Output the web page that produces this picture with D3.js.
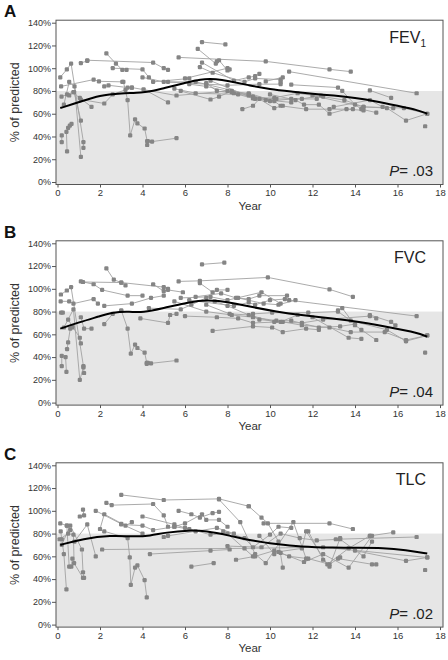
<!DOCTYPE html>
<html><head><meta charset="utf-8">
<script src="https://cdn.jsdelivr.net/npm/d3@7"></script>
<style>body{margin:0;background:#fff}svg{display:block;font-family:"Liberation Sans",Arial,sans-serif}</style>
</head><body><svg id="c" width="448" height="660"></svg>
<script>
const yearTicks = [0,2,4,6,8,10,12,14,16,18];
const pctTicks = [0,20,40,60,80,100,120,140];
const panelLetters = ["A","B","C"];
const measureNames = ["FEV","FVC","TLC"];
const measureSubs = ["1","",""];
const pValues = [".03",".04",".02"];
const normalLimit = 80;

const fevTraj = [
 [[0.13,92],[0.44,99],[0.64,104],[1.22,35],[1.22,30]],
 [[0.17,84],[1.7,90],[1.95,88.5],[3.05,88]],
 [[0.19,75],[0.45,77],[0.75,79],[1.1,72.5],[2.2,69],[2.6,77],[3.2,81]],
 [[1.1,104.5],[1.4,106.5]],
 [[0.2,41],[0.2,35]],
 [[0.42,44],[0.45,27]],
 [[0.5,47.5],[0.58,49.5],[0.66,51]],
 [[0.55,76],[0.78,79],[1.1,54]],
 [[0.3,68],[0.55,88],[0.8,84],[1.1,22]],
 [[1.05,74],[1.6,66]],
 [[2.3,113],[2.75,104],[3.05,98.5],[3.25,98.5]],
 [[2.2,84],[2.4,85],[3.3,83],[3.5,83]],
 [[3.1,88],[3.3,72],[3.42,41],[3.65,55],[3.76,51.5],[4.1,47],[4.22,36],[4.22,32.5]],
 [[4.25,36],[4.45,35.5],[5.6,38.5]],
 [[1.4,107],[4.5,105],[5.0,100],[5.2,98.5]],
 [[2.6,100],[4.0,99],[4.3,92],[4.5,88],[6.2,91]],
 [[4.05,81.5],[5.2,70]],
 [[3.5,83],[5.6,76],[8.0,80]],
 [[5.7,109.5],[9.8,106],[12.8,99],[13.8,97]],
 [[6.8,123],[7.9,121]],
 [[6.6,117],[7.45,104]],
 [[7.5,106],[7.6,107],[8.0,98]],
 [[10.9,97],[16.9,78]],
 [[6.8,105],[8.3,89],[9.0,92],[9.3,93],[9.5,95]],
 [[5.8,80],[7.2,72.5],[7.6,75],[8.2,80],[9.0,76]],
 [[6.0,91],[8.0,100],[8.1,99]],
 [[9.8,88.5],[10.6,92],[10.5,88]],
 [[8.7,64],[9.2,67],[9.5,73],[10.2,65],[10.6,67]],
 [[10.0,77],[11.2,72],[11.6,68],[12.3,68],[12.8,60],[13.6,64],[14.4,63]],
 [[11.0,85.5],[13.2,83],[13.4,80],[14.0,68],[14.3,64],[15.0,61]],
 [[14.7,80.5],[15.7,74]],
 [[12.0,76],[14.4,66],[15.5,65],[16.4,54],[17.4,60]],
 [[13.0,66],[14.7,72],[15.3,66],[15.8,65]],
 [[17.3,49]],
 [[7.2,89],[9.3,73],[10.2,74],[11.3,78],[12.5,75],[13.5,72],[14.4,66],[16.3,65],[17.4,60]],
 [[5.2,88],[6.5,88],[9.0,77],[10.0,71],[11.0,73],[12.2,73]],
 [[4.0,92],[5.0,88],[7.0,86],[8.0,85],[9.5,86],[10.5,86]],
 [[5.5,82],[6.5,78],[8.5,77],[9.2,73.5],[9.8,72],[11.0,70]],
 [[6.2,86],[7.0,84],[8.2,79],[9.0,78],[10.2,71],[10.5,67],[11.7,64],[12.8,64],[13.9,64]],
 [[6.7,101],[7.3,96],[8.8,88],[9.3,91],[10.5,90]],
 [[7.0,87],[7.5,80],[8.3,78],[9.2,75],[10.3,73],[11.5,73],[12.4,76]]
];
const fvcTraj = [
 [[0.16,95],[0.44,98.5],[0.64,101.5],[1.22,32],[1.25,26]],
 [[0.15,89],[0.55,89],[0.75,87],[1.7,91],[1.9,87]],
 [[0.17,79],[0.25,79]],
 [[0.2,41],[0.2,32]],
 [[0.38,40],[0.42,27]],
 [[0.45,47],[0.5,53],[0.6,65],[0.7,66]],
 [[0.5,73],[0.7,67],[1.05,57],[1.1,52]],
 [[0.3,66],[0.75,82],[1.05,20],[1.22,31]],
 [[1.1,75],[1.25,65],[1.6,65]],
 [[1.1,106.5],[1.7,104],[2.1,99],[3.3,94],[4.0,94]],
 [[1.2,106],[3.0,105.5],[5.0,101.5],[5.2,100]],
 [[2.3,118],[2.65,108],[3.0,105.5],[3.2,103]],
 [[2.2,85],[3.5,87],[4.4,92],[5.0,94]],
 [[2.2,69],[2.6,78],[3.0,80.5]],
 [[3.0,81],[3.3,65],[3.45,43],[3.65,51],[3.76,48],[4.1,44],[4.2,35],[4.2,34]],
 [[4.25,35],[4.4,34.5],[5.6,37]],
 [[3.9,74],[5.2,70],[5.3,77],[5.6,78]],
 [[4.5,104],[5.0,98],[5.2,99],[5.9,97]],
 [[4.3,83],[5.8,82],[6.3,86],[7.0,92]],
 [[5.7,106.5],[6.7,107],[9.9,110],[12.8,99.5],[13.9,93]],
 [[6.8,121.5],[7.85,123]],
 [[6.7,105],[7.3,97],[7.5,99],[8.0,99]],
 [[10.9,90],[16.9,76]],
 [[14.7,77],[15.7,71],[15.9,68]],
 [[16.4,54],[17.4,59]],
 [[17.3,44]],
 [[13.2,81],[13.4,83],[14.0,68],[14.3,64],[15.0,55]],
 [[12.0,75],[13.7,57],[14.3,56]],
 [[7.3,63],[9.2,67],[10.1,66],[10.6,62],[11.7,65],[12.3,64]],
 [[5.8,92],[7.2,93],[8.0,90],[9.6,97],[10.5,87]],
 [[6.2,90],[8.3,85],[9.0,88],[9.3,86],[10.0,90],[10.7,91]],
 [[5.5,89],[7.0,80],[8.2,77],[9.2,75],[10.3,72],[11.0,72],[12.3,66],[13.3,67],[14.0,69]],
 [[6.0,76],[7.5,75],[8.5,74],[9.2,70],[10.6,71],[11.5,68],[12.8,66],[13.8,62],[15.4,62],[16.4,55],[17.4,59]],
 [[7.0,86],[8.1,78],[9.0,77],[10.2,71],[11.5,70],[12.5,73],[14.7,76],[15.0,74]],
 [[6.5,93],[7.7,96],[8.4,92],[9.0,91],[9.5,94],[10.8,94]],
 [[8.5,92],[9.7,87],[10.4,86],[11.2,90]],
 [[9.2,78],[10.1,79],[11.8,79],[13.2,80],[13.8,72],[15.5,64],[16.4,54]],
 [[7.4,89],[8.0,85],[9.5,73],[10.5,71],[11.3,77]]
];
const tlcTraj = [
 [[0.13,89],[0.44,87],[0.6,83]],
 [[0.15,82],[0.2,75],[0.3,62],[0.42,31]],
 [[0.44,87],[0.55,51],[0.65,51],[0.7,58]],
 [[0.1,75],[0.5,80],[0.75,79],[0.78,54],[1.2,41]],
 [[0.2,70],[0.6,87],[1.15,66],[1.2,46],[1.25,41]],
 [[1.05,95],[1.25,96],[1.2,101]],
 [[0.8,73],[1.4,88],[1.8,60]],
 [[1.8,100],[3.0,88.5],[4.0,80]],
 [[2.3,107],[2.55,105],[4.5,106],[5.0,96],[5.2,86]],
 [[3.0,114],[5.0,109.5],[7.6,110.5],[9.0,104]],
 [[2.0,84],[2.2,97],[3.2,87],[3.5,90]],
 [[2.1,66],[8.8,67],[12.5,68],[17.4,59]],
 [[2.2,82],[3.3,76],[3.4,59],[3.45,35],[3.65,50],[3.76,52],[4.1,39],[4.2,24]],
 [[3.0,88],[4.0,87],[4.5,83],[5.5,86],[6.2,84]],
 [[4.35,62],[7.2,65],[8.1,66]],
 [[6.3,51],[7.35,54]],
 [[5.7,100],[6.3,97],[6.7,94],[7.3,98],[7.6,99]],
 [[4.0,95],[5.5,88],[6.0,85],[7.2,79],[8.0,80],[9.2,60]],
 [[5.0,77],[5.2,78],[6.5,82],[7.5,85],[8.3,80]],
 [[5.5,86],[6.0,89],[6.8,97],[7.0,92],[7.6,92],[8.0,86]],
 [[9.0,104],[9.6,94],[9.9,89],[10.4,73],[10.6,50]],
 [[9.7,89],[12.8,89],[13.9,84]],
 [[11.8,82],[12.5,57],[12.8,51],[13.3,76]],
 [[14.7,78],[15.8,81]],
 [[13.1,75],[16.9,77]],
 [[14.0,65],[16.4,56],[17.4,59]],
 [[17.3,48]],
 [[13.2,58],[14.8,53],[15.0,53]],
 [[10.5,63],[11.6,55],[12.5,62],[13.7,50],[14.8,78]],
 [[7.6,110],[8.6,90],[9.3,62],[9.8,54],[11.1,90],[11.7,58]],
 [[8.4,57],[9.3,60],[10.2,65],[10.9,60],[11.8,58],[12.8,53],[13.3,59]],
 [[7.8,82],[8.8,76],[9.2,68],[10.0,79],[10.4,86],[11.0,85]],
 [[8.0,69],[9.6,68],[10.5,80],[11.4,76],[12.2,74],[13.3,75],[14.4,60],[14.8,73]],
 [[9.5,78],[10.2,62],[10.4,64],[11.5,67],[11.7,82],[12.7,53],[13.7,67],[14.7,78]]
];
const fevSmooth = [[0.13,65],[1,70],[2,76.5],[3,78],[4,78.5],[4.5,80],[5,82.5],[6,87],[6.7,90.5],[7.5,90.5],[8,89],[9,85],[10,81.5],[11,79.5],[12,77.5],[13,76],[14,74],[15,71],[16,67],[17,63],[17.4,60]];
const fvcSmooth = [[0.13,65],[1,70.5],[2,76],[2.6,79.5],[3.4,80],[4,79],[5,83],[6,87.5],[6.8,90],[7.6,89.5],[8.3,87.3],[9.2,83.8],[10.3,80],[11.4,77],[13,74],[14.2,71],[15.8,65.5],[16.9,61.5],[17.4,58]];
const tlcSmooth = [[0.13,70],[1.2,75.5],[2.5,78.5],[3.6,77.2],[4.35,78],[5.1,81],[6.2,83],[7,82.2],[8,78.7],[9.2,73.4],[10.3,70.7],[11.4,68.4],[13,67.5],[14.2,67.5],[15.3,67.5],[16.4,65.5],[17.4,62.5]];

const trajSets = [fevTraj, fvcTraj, tlcTraj];
const smoothSets = [fevSmooth, fvcSmooth, tlcSmooth];
const panelTops = [22.7, 243.3, 465.3];

const svg = d3.select("#c");
const x = d3.scaleLinear().domain([0,18]).range([57.5, 440]);
const frameL = 56, frameR = 443;

panelTops.forEach((top, i) => {
  const y = d3.scaleLinear().domain([0,140]).range([top+159.3, top]);
  const g = svg.append("g");
  const fTop = top - 2.5, fBot = y(0) + 2.5;
  g.append("rect").attr("x", frameL).attr("y", y(normalLimit)).attr("width", frameR-frameL).attr("height", fBot - y(normalLimit)).attr("fill", "#e6e6e6");

  const line = d3.line().x(d=>x(d[0])).y(d=>y(d[1]));
  trajSets[i].forEach(t => {
    if (t.length > 1) g.append("path").attr("d", line(t)).attr("fill","none").attr("stroke","#a2a2a2").attr("stroke-width",0.9);
  });
  trajSets[i].forEach(t => {
    g.selectAll(null).data(t).enter().append("rect")
      .attr("x", d=>x(d[0])-2.1).attr("y", d=>y(d[1])-2.1).attr("width",4.2).attr("height",4.2).attr("rx",1.2)
      .attr("fill","#858585");
  });
  g.append("path").attr("d", d3.line().curve(d3.curveBasis).x(d=>x(d[0])).y(d=>y(d[1]))(smoothSets[i]))
    .attr("fill","none").attr("stroke","#000").attr("stroke-width",2);

  g.append("rect").attr("x", frameL).attr("y", fTop).attr("width", frameR-frameL).attr("height", fBot-fTop)
    .attr("fill","none").attr("stroke","#555").attr("stroke-width",1);

  // y axis
  const ya = g.append("g").attr("transform", `translate(${frameL},0)`);
  ya.call(d3.axisLeft(y).tickValues(d3.range(0,141,2)).tickSize(2).tickFormat(""));
  ya.call(d3.axisLeft(y).tickValues(pctTicks).tickSize(4).tickFormat(d=>d+"%"));
  ya.selectAll(".domain").remove();
  ya.selectAll("line").attr("stroke","#555");
  ya.selectAll("text").attr("font-size", 9).attr("fill","#333").attr("font-family","Liberation Sans, Arial, sans-serif").attr("x",-5);

  // x axis
  const xa = g.append("g").attr("transform", `translate(0,${fBot})`);
  xa.call(d3.axisBottom(x).tickValues(d3.range(0,18.01,0.4)).tickSize(2).tickFormat(""));
  xa.call(d3.axisBottom(x).tickValues(yearTicks).tickSize(3).tickFormat(d3.format("d")));
  xa.selectAll(".domain").remove();
  xa.selectAll("line").attr("stroke","#555");
  xa.selectAll("text").attr("font-size", 9.5).attr("fill","#333").attr("font-family","Liberation Sans, Arial, sans-serif").attr("y",5);

  g.append("text").attr("x", 250).attr("y", fBot + 25).attr("text-anchor","middle")
    .attr("font-size", 11.5).attr("fill","#333").text("Year");
  g.append("text").attr("transform", `translate(19,${(top + y(0))/2}) rotate(-90)`).attr("text-anchor","middle")
    .attr("font-size", 12.5).attr("fill","#333").text("% of predicted");

  g.append("text").attr("x", 4).attr("y", fTop - 3).attr("font-size", 17).attr("font-weight","bold").attr("fill","#111").text(panelLetters[i]);

  const mt = g.append("text").attr("x", 426).attr("y", top + 20).attr("text-anchor","end").attr("font-size", 16).attr("fill","#222");
  mt.append("tspan").text(measureNames[i]);
  if (measureSubs[i]) mt.append("tspan").attr("font-size", 10).attr("dy", 4).text(measureSubs[i]);

  const pt = g.append("text").attr("x", 433).attr("y", y(0) - 6).attr("text-anchor","end").attr("font-size", 15).attr("fill","#222");
  pt.append("tspan").attr("font-style","italic").text("P");
  pt.append("tspan").text("= " + pValues[i]);
});
</script></body></html>
